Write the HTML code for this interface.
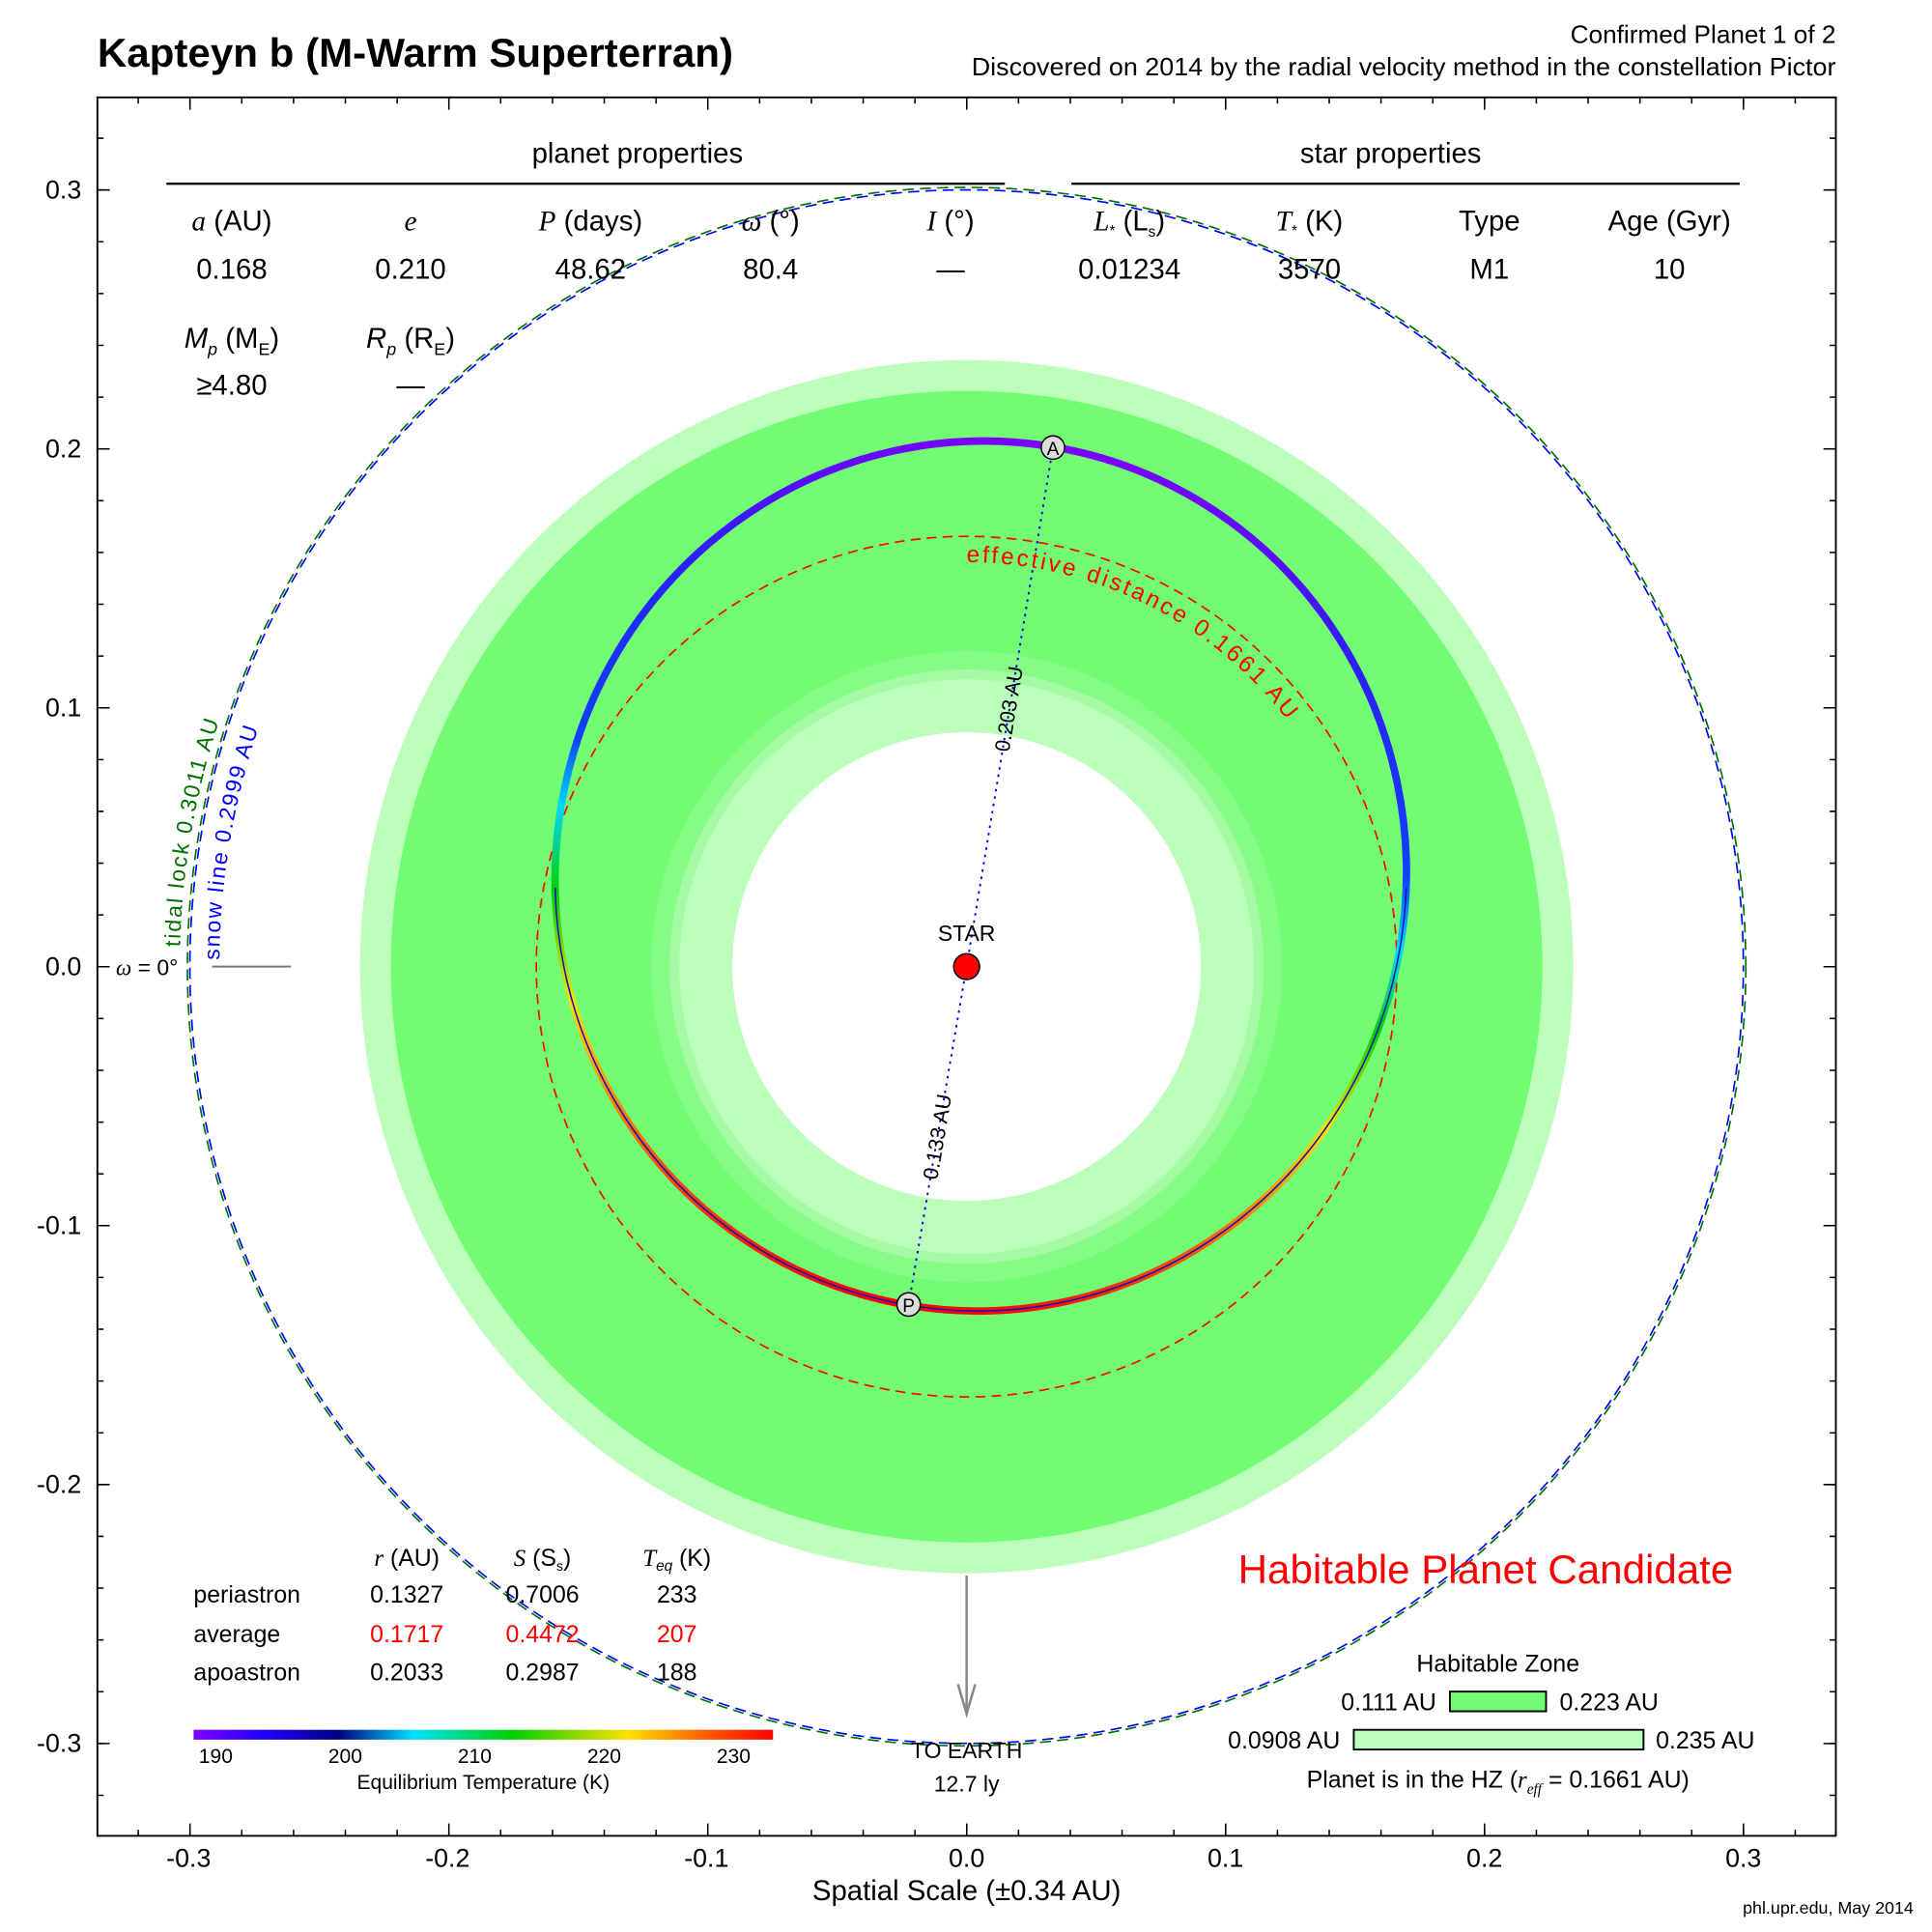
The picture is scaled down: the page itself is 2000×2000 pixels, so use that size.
<!DOCTYPE html>
<html><head><meta charset="utf-8"><style>
html,body{margin:0;padding:0;background:#fff;}
svg{display:block;font-family:"Liberation Sans",Arial,sans-serif;}
</style></head><body>
<svg width="2000" height="2000" viewBox="0 0 1567 1567" xmlns="http://www.w3.org/2000/svg">
<defs>
<linearGradient id="og" gradientUnits="userSpaceOnUse" x1="1148.5" y1="710.5" x2="442.5" y2="710.5">
<stop offset="0" stop-color="#7a00ff"/><stop offset="0.2" stop-color="#2a20ff"/><stop offset="0.42" stop-color="#1040ff"/>
<stop offset="0.5" stop-color="#00d8ff"/><stop offset="0.6" stop-color="#00d000"/><stop offset="0.72" stop-color="#ffe000"/>
<stop offset="0.85" stop-color="#ff7000"/><stop offset="1" stop-color="#ff0000"/></linearGradient>
<linearGradient id="cb" x1="0" y1="0" x2="1" y2="0">
<stop offset="0" stop-color="#8000ff"/><stop offset="0.12" stop-color="#2000ff"/><stop offset="0.25" stop-color="#000080"/>
<stop offset="0.38" stop-color="#00e0ff"/><stop offset="0.55" stop-color="#00d000"/><stop offset="0.75" stop-color="#ffe000"/>
<stop offset="0.88" stop-color="#ff6000"/><stop offset="1" stop-color="#ff0000"/></linearGradient>
<path id="snowp" d="M178,778.7 A606,606 0 0 1 481,259"/>
<path id="tidalp" d="M146,768 A638,638 0 0 1 465,231.5"/>
<path id="effp" d="M784,456 A328,328 0 0 1 1112,784"/>
<clipPath id="low"><rect x="0" y="720" width="1567" height="500"/></clipPath>
</defs>
<rect width="1567" height="1567" fill="#fff"/>
<text x="79" y="54" font-size="33" font-weight="bold">Kapteyn b (M-Warm Superterran)</text>
<text x="1489" y="35" font-size="20.5" text-anchor="end">Confirmed Planet 1 of 2</text>
<text x="1489" y="61" font-size="20.5" text-anchor="end" textLength="701" lengthAdjust="spacingAndGlyphs">Discovered on 2014 by the radial velocity method in the constellation Pictor</text>
<circle cx="784" cy="784" r="492" fill="#bbffbb"/>
<circle cx="784" cy="784" r="467" fill="#72fc72"/>
<circle cx="784" cy="784" r="256" fill="#86fb86"/>
<circle cx="784" cy="784" r="241" fill="#a4fba4"/>
<circle cx="784" cy="784" r="233" fill="#bbffbb"/>
<circle cx="784" cy="784" r="190" fill="#fff"/>
<circle cx="784" cy="784" r="632" fill="none" stroke="#007000" stroke-width="1.3" stroke-dasharray="9 5"/>
<circle cx="784" cy="784" r="630" fill="none" stroke="#0000ff" stroke-width="1.3" stroke-dasharray="9 5" stroke-dashoffset="5"/>
<circle cx="784" cy="784" r="349" fill="none" stroke="#ff0000" stroke-width="1.3" stroke-dasharray="8 5"/>
<g transform="rotate(-80.44 795.5 710.5)">
<ellipse cx="795.5" cy="710.5" rx="353" ry="345" fill="none" stroke="url(#og)" stroke-width="6"/>
</g>
<g clip-path="url(#low)">
<ellipse cx="795.5" cy="710.5" rx="353" ry="345" transform="rotate(-80.44 795.5 710.5)" fill="none" stroke="#1010c0" stroke-width="1.2"/>
</g>
<line x1="784" y1="784" x2="854" y2="363" stroke="#0000ff" stroke-width="1.5" stroke-dasharray="2 4"/>
<line x1="784" y1="784" x2="737" y2="1058" stroke="#0000ff" stroke-width="1.5" stroke-dasharray="2 4"/>
<text transform="translate(824,576) rotate(-80.5)" font-size="17" text-anchor="middle">0.203 AU</text>
<text transform="translate(766,923) rotate(-80.3)" font-size="17" text-anchor="middle">0.133 AU</text>
<circle cx="854" cy="363" r="9.5" fill="#ddd" stroke="#000" stroke-width="1.2"/>
<text x="854" y="369" font-size="15" text-anchor="middle">A</text>
<circle cx="737" cy="1058" r="9.5" fill="#ddd" stroke="#000" stroke-width="1.2"/>
<text x="737" y="1064" font-size="15" text-anchor="middle">P</text>
<circle cx="784" cy="784" r="10.5" fill="#ff0000" stroke="#000" stroke-width="1.2"/>
<text x="784" y="763" font-size="18" text-anchor="middle">STAR</text>
<text font-size="18" fill="#0000ff" letter-spacing="1.5"><textPath href="#snowp">snow line 0.2999 AU</textPath></text>
<text font-size="18" fill="#007000" letter-spacing="1.5"><textPath href="#tidalp">tidal lock 0.3011 AU</textPath></text>
<text font-size="19" fill="#ff0000" letter-spacing="2.2"><textPath href="#effp">effective distance 0.1661 AU</textPath></text>
<line x1="172" y1="784" x2="236" y2="784" stroke="#777" stroke-width="1.5"/>
<text x="94" y="791" font-size="18"><tspan font-family="Liberation Serif" font-style="italic">ω</tspan> = 0°</text>
<line x1="784" y1="1278" x2="784" y2="1388" stroke="#888" stroke-width="2"/>
<path d="M777,1366 L784,1390 L791,1366" fill="none" stroke="#888" stroke-width="2"/>
<text x="784" y="1426" font-size="18" text-anchor="middle">TO EARTH</text>
<text x="784" y="1453" font-size="18" text-anchor="middle">12.7 ly</text>
<rect x="79" y="79" width="1410" height="1410" fill="none" stroke="#000" stroke-width="1.5"/>
<g stroke="#000">
<line x1="111.5" y1="81.5" x2="1458" y2="81.5" stroke-width="5" stroke-dasharray="1.2 40.8"/>
<line x1="111.5" y1="1486.5" x2="1458" y2="1486.5" stroke-width="5" stroke-dasharray="1.2 40.8"/>
<line x1="81.5" y1="111.5" x2="81.5" y2="1458" stroke-width="5" stroke-dasharray="1.2 40.8"/>
<line x1="1486.5" y1="111.5" x2="1486.5" y2="1458" stroke-width="5" stroke-dasharray="1.2 40.8"/>
<line x1="153.5" y1="84" x2="1420" y2="84" stroke-width="10" stroke-dasharray="1.2 208.8"/>
<line x1="153.5" y1="1484" x2="1420" y2="1484" stroke-width="10" stroke-dasharray="1.2 208.8"/>
<line x1="84" y1="153.5" x2="84" y2="1420" stroke-width="10" stroke-dasharray="1.2 208.8"/>
<line x1="1484" y1="153.5" x2="1484" y2="1420" stroke-width="10" stroke-dasharray="1.2 208.8"/>
</g>
<g font-size="21" text-anchor="end">
<text x="66" y="161">0.3</text><text x="66" y="371">0.2</text><text x="66" y="581">0.1</text>
<text x="66" y="791">0.0</text><text x="66" y="1001">-0.1</text><text x="66" y="1211">-0.2</text><text x="66" y="1421">-0.3</text>
</g>
<g font-size="21" text-anchor="middle">
<text x="153" y="1514">-0.3</text><text x="363" y="1514">-0.2</text><text x="573" y="1514">-0.1</text>
<text x="784" y="1514">0.0</text><text x="994" y="1514">0.1</text><text x="1204" y="1514">0.2</text><text x="1414" y="1514">0.3</text>
<text x="784" y="1541" font-size="23">Spatial Scale (±0.34 AU)</text>
</g>
<text x="1552" y="1552" font-size="14" text-anchor="end">phl.upr.edu, May 2014</text>
<g font-size="23" text-anchor="middle">
<text x="517" y="132">planet properties</text>
<text x="1128" y="132">star properties</text>
</g>
<line x1="135" y1="149" x2="815" y2="149" stroke="#000" stroke-width="1.8"/>
<line x1="869" y1="149" x2="1411" y2="149" stroke="#000" stroke-width="1.8"/>
<g font-size="23" text-anchor="middle">
<text x="188" y="187"><tspan font-family="Liberation Serif" font-style="italic">a</tspan> (AU)</text>
<text x="333" y="187" font-family="Liberation Serif" font-style="italic">e</text>
<text x="479" y="187"><tspan font-family="Liberation Serif" font-style="italic">P</tspan> (days)</text>
<text x="625" y="187"><tspan font-family="Liberation Serif" font-style="italic">ω</tspan> (°)</text>
<text x="771" y="187"><tspan font-family="Liberation Serif" font-style="italic">I</tspan> (°)</text>
<text x="916" y="187"><tspan font-family="Liberation Serif" font-style="italic">L</tspan><tspan font-size="12" dy="4">*</tspan><tspan dy="-4"> (L</tspan><tspan font-size="12" dy="5">s</tspan><tspan dy="-5">)</tspan></text>
<text x="1062" y="187"><tspan font-family="Liberation Serif" font-style="italic">T</tspan><tspan font-size="12" dy="4">*</tspan><tspan dy="-4"> (K)</tspan></text>
<text x="1208" y="187">Type</text>
<text x="1354" y="187">Age (Gyr)</text>
<text x="188" y="226">0.168</text><text x="333" y="226">0.210</text><text x="479" y="226">48.62</text>
<text x="625" y="226">80.4</text><text x="771" y="226">—</text><text x="916" y="226">0.01234</text>
<text x="1062" y="226">3570</text><text x="1208" y="226">M1</text><text x="1354" y="226">10</text>
<text x="188" y="282"><tspan font-style="italic">M</tspan><tspan font-size="14" font-style="italic" dy="6">p</tspan><tspan dy="-6"> (M</tspan><tspan font-size="14" dy="6">E</tspan><tspan dy="-6">)</tspan></text>
<text x="333" y="282"><tspan font-style="italic">R</tspan><tspan font-size="14" font-style="italic" dy="6">p</tspan><tspan dy="-6"> (R</tspan><tspan font-size="14" dy="6">E</tspan><tspan dy="-6">)</tspan></text>
<text x="188" y="320">≥4.80</text><text x="333" y="320">—</text>
</g>
<g font-size="19.5">
<text x="330" y="1270" text-anchor="middle"><tspan font-family="Liberation Serif" font-style="italic">r</tspan> (AU)</text>
<text x="440" y="1270" text-anchor="middle"><tspan font-family="Liberation Serif" font-style="italic">S</tspan> (S<tspan font-size="11" dy="4">s</tspan><tspan dy="-4">)</tspan></text>
<text x="549" y="1270" text-anchor="middle"><tspan font-family="Liberation Serif" font-style="italic">T</tspan><tspan font-size="12" font-style="italic" dy="4">eq</tspan><tspan dy="-4"> (K)</tspan></text>
<text x="157" y="1300">periastron</text><text x="157" y="1332">average</text><text x="157" y="1363">apoastron</text>
<g text-anchor="middle">
<text x="330" y="1300">0.1327</text><text x="440" y="1300">0.7006</text><text x="549" y="1300">233</text>
<text x="330" y="1332" fill="#ff0000">0.1717</text><text x="440" y="1332" fill="#ff0000">0.4472</text><text x="549" y="1332" fill="#ff0000">207</text>
<text x="330" y="1363">0.2033</text><text x="440" y="1363">0.2987</text><text x="549" y="1363">188</text>
</g>
</g>
<rect x="157" y="1403" width="470" height="8" fill="url(#cb)"/>
<g font-size="16.5" text-anchor="middle">
<text x="175" y="1430">190</text><text x="280" y="1430">200</text><text x="385" y="1430">210</text>
<text x="490" y="1430">220</text><text x="595" y="1430">230</text>
<text x="392" y="1451">Equilibrium Temperature (K)</text>
</g>
<text x="1205" y="1284" font-size="33" fill="#ff0000" text-anchor="middle">Habitable Planet Candidate</text>
<text x="1215" y="1356" font-size="19.5" text-anchor="middle">Habitable Zone</text>
<rect x="1176" y="1372" width="78" height="16" fill="#72fc72" stroke="#000" stroke-width="1.5"/>
<text x="1165" y="1387" font-size="19.5" text-anchor="end">0.111 AU</text>
<text x="1265" y="1387" font-size="19.5">0.223 AU</text>
<rect x="1098" y="1403" width="235" height="16" fill="#bbffbb" stroke="#000" stroke-width="1.5"/>
<text x="1087" y="1418" font-size="19.5" text-anchor="end">0.0908 AU</text>
<text x="1343" y="1418" font-size="19.5">0.235 AU</text>
<text x="1215" y="1450" font-size="19.5" text-anchor="middle">Planet is in the HZ (<tspan font-family="Liberation Serif" font-style="italic">r</tspan><tspan font-family="Liberation Serif" font-style="italic" font-size="12" dy="5">eff</tspan><tspan dy="-5"> = 0.1661 AU)</tspan></text>
</svg>
</body></html>
